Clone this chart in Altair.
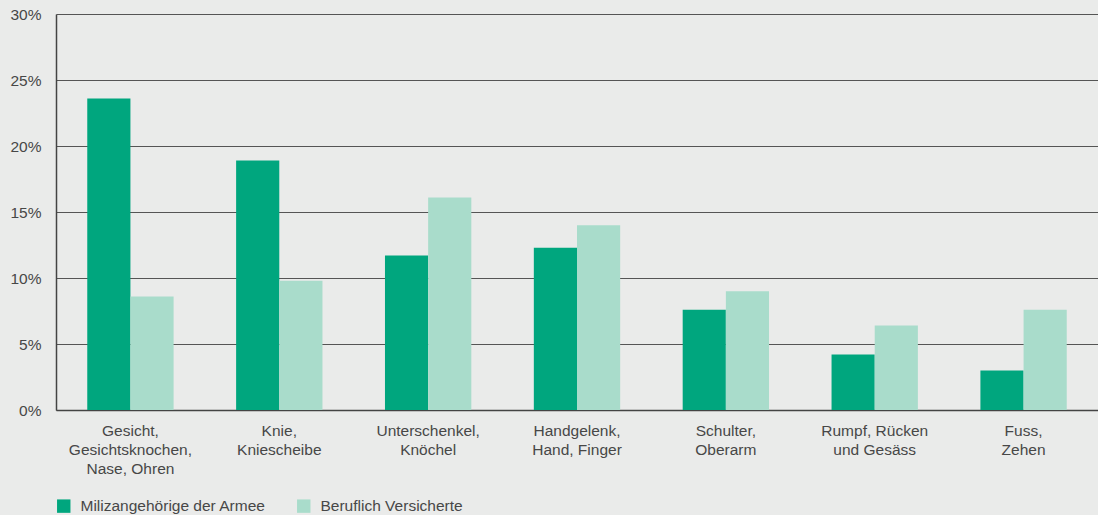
import altair as alt
import pandas as pd

categories = [
    "Gesicht,|Gesichtsknochen,|Nase, Ohren",
    "Knie,|Kniescheibe",
    "Unterschenkel,|Knöchel",
    "Handgelenk,|Hand, Finger",
    "Schulter,|Oberarm",
    "Rumpf, Rücken|und Gesäss",
    "Fuss,|Zehen",
]
series = ["Milizangehörige der Armee", "Beruflich Versicherte"]
miliz = [23.6, 18.9, 11.7, 12.3, 7.6, 4.2, 3.0]
beruf = [8.6, 9.8, 16.1, 14.0, 9.0, 6.4, 7.6]
y_ticks = [0, 5, 10, 15, 20, 25, 30]
colors = ["#00a67e", "#a9dccb"]

rows = []
for c, a, b in zip(categories, miliz, beruf):
    rows.append({"cat": c, "series": series[0], "value": a})
    rows.append({"cat": c, "series": series[1], "value": b})
df = pd.DataFrame(rows)

FONT = "Liberation Sans"
TXT = "#474747"
FS = 15.5

chart = alt.Chart(df).mark_bar().encode(
    x=alt.X(
        "cat:N",
        sort=categories,
        scale=alt.Scale(paddingInner=0.42, paddingOuter=0.21),
        axis=alt.Axis(
            title=None,
            labelExpr="split(datum.label, '|')",
            labelAngle=0,
            ticks=False,
            domain=True,
            domainColor="#444444",
            domainWidth=1.5,
            labelPadding=13,
            labelFontSize=FS,
            labelLineHeight=19,
            labelColor=TXT,
            labelFont=FONT,
            labelBaseline="top",
        ),
    ),
    xOffset=alt.XOffset("series:N", sort=series),
    y=alt.Y(
        "value:Q",
        scale=alt.Scale(domain=[0, 30], nice=False),
        axis=alt.Axis(
            title=None,
            values=y_ticks,
            labelExpr="datum.value + '%'",
            grid=True,
            gridColor="#555555",
            gridWidth=1.2,
            ticks=False,
            domain=True,
            domainColor="#444444",
            domainWidth=1.5,
            labelPadding=15,
            labelFontSize=FS,
            labelColor=TXT,
            labelFont=FONT,
        ),
    ),
    color=alt.Color(
        "series:N",
        sort=series,
        scale=alt.Scale(domain=series, range=colors),
        legend=alt.Legend(
            title=None,
            orient="none",
            legendX=0,
            legendY=484,
            direction="horizontal",
            symbolType="square",
            symbolSize=180,
            symbolStrokeWidth=0,
            symbolOpacity=1,
            labelFontSize=FS,
            labelColor=TXT,
            labelFont=FONT,
            labelOffset=9,
            columnPadding=30,
            labelLimit=400,
        ),
    ),
).properties(
    width=1042,
    height=396,
    background="#eaebea",
    padding={"left": 56, "top": 14, "right": 0, "bottom": 105},
    autosize=alt.AutoSizeParams(type="none"),
).configure_view(stroke=None)

chart.save("out.html", embed_options={"renderer": "svg", "actions": False})
